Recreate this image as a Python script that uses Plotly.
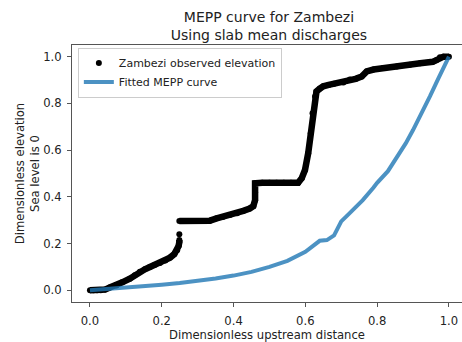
import plotly.graph_objects as go

# Observed long profile of the Zambezi (dimensionless distance / elevation).
# None marks breaks between separate runs of survey points.
obs_x = [0.0, 0.01, 0.02, 0.03, 0.042, 0.055, 0.074, 0.09, 0.111, 0.125, 0.139,
         0.153, 0.167, 0.18, 0.195, 0.21, 0.223, 0.235, 0.243, 0.247, 0.249,
         0.249, None, 0.249, None, 0.249, 0.27, 0.29, 0.31, 0.334, 0.353, 0.37,
         0.39, 0.41, 0.427, 0.445, 0.455, 0.46, 0.46, 0.46, 0.48, 0.50, 0.52,
         0.54, 0.56, 0.58, 0.59, 0.599, 0.608, 0.615, 0.62, 0.627, 0.631, 0.64,
         0.65, 0.665, 0.68, 0.706, 0.724, 0.74, 0.757, 0.771, 0.79, 0.817,
         0.855, 0.891, 0.92, 0.955, 0.965, 0.975, 0.985, 1.0]
obs_y = [0.0, 0.0, 0.0, 0.0, 0.003, 0.012, 0.021, 0.034, 0.05, 0.065, 0.079,
         0.09, 0.10, 0.108, 0.117, 0.128, 0.14, 0.155, 0.172, 0.19, 0.207,
         0.215, None, 0.24, None, 0.297, 0.297, 0.297, 0.297, 0.298, 0.308,
         0.314, 0.322, 0.33, 0.34, 0.35, 0.36, 0.386, 0.42, 0.458, 0.46, 0.46,
         0.46, 0.46, 0.46, 0.46, 0.48, 0.515, 0.587, 0.672, 0.758, 0.83, 0.851,
         0.863, 0.873, 0.879, 0.884, 0.889, 0.902, 0.905, 0.915, 0.937, 0.945,
         0.952, 0.958, 0.966, 0.972, 0.978, 0.985, 0.998, 1.0, 1.0]

# Fitted MEPP curve evaluated along the profile
fit_x = [0.0, 0.05, 0.1, 0.15, 0.2, 0.25, 0.3, 0.35, 0.4, 0.45, 0.5, 0.55,
         0.6, 0.625, 0.64, 0.66, 0.68, 0.69, 0.70, 0.72, 0.74, 0.76, 0.79, 0.80,
         0.83, 0.855, 0.88, 0.90, 0.925, 0.947, 0.97, 1.0]
fit_y = [0.0, 0.005, 0.012, 0.017, 0.024, 0.031, 0.040, 0.051, 0.063, 0.079,
         0.100, 0.126, 0.165, 0.195, 0.212, 0.215, 0.235, 0.265, 0.295, 0.325,
         0.355, 0.386, 0.44, 0.46, 0.51, 0.57, 0.63, 0.686, 0.76, 0.83, 0.905,
         1.0]

x_ticks = [0.0, 0.2, 0.4, 0.6, 0.8, 1.0]
y_ticks = [0.0, 0.2, 0.4, 0.6, 0.8, 1.0]

FONT = "DejaVu Sans"
TXT = "#222222"
SPINE = "#555555"

fig = go.Figure()

# observed profile: body of the dense point cloud
fig.add_trace(go.Scatter(
    x=obs_x, y=obs_y, mode="lines", connectgaps=False,
    line=dict(color="black", width=6.5), showlegend=False, hoverinfo="skip",
))
fig.add_trace(go.Scatter(
    x=obs_x, y=obs_y, mode="markers", name="Zambezi observed elevation",
    marker=dict(color="black", size=6),
))
fig.add_trace(go.Scatter(
    x=fit_x, y=fit_y, mode="lines", name="Fitted MEPP curve",
    line=dict(color="rgba(31,119,180,0.8)", width=4),
))

fig.update_layout(
    width=462, height=342,
    margin=dict(l=72, r=0, t=45, b=40),
    paper_bgcolor="white", plot_bgcolor="white",
    font=dict(family=FONT, size=11.6, color=TXT),
    title=dict(
        text="MEPP curve for Zambezi<br>Using slab mean discharges",
        x=0.505, xref="paper", xanchor="center",
        y=0.937, yref="container", yanchor="top",
        font=dict(family=FONT, size=14, color=TXT),
    ),
    legend=dict(
        x=0.015, y=0.99, xanchor="left", yanchor="top",
        bgcolor="rgba(255,255,255,0.8)", bordercolor="#cccccc", borderwidth=1,
        font=dict(family=FONT, size=11, color=TXT),
        tracegroupgap=0, itemwidth=30,
    ),
    showlegend=True,
)

fig.update_xaxes(
    range=[-0.05, 1.0364], tickvals=x_ticks, ticktext=[f"{v:.1f}" for v in x_ticks],
    showgrid=False, zeroline=False,
    showline=True, linecolor=SPINE, linewidth=1, mirror=True,
    ticks="outside", ticklen=4, tickcolor=SPINE, ticklabelstandoff=4,
    title=dict(text="Dimensionless upstream distance", standoff=4,
               font=dict(family=FONT, size=11.6, color=TXT)),
)
fig.update_yaxes(
    range=[-0.05, 1.05], tickvals=y_ticks, ticktext=[f"{v:.1f}" for v in y_ticks],
    showgrid=False, zeroline=False,
    showline=True, linecolor=SPINE, linewidth=1,
    ticks="outside", ticklen=4, tickcolor=SPINE, ticklabelstandoff=3,
    title=dict(text="Dimensionless elevation<br>Sea level is 0", standoff=1,
               font=dict(family=FONT, size=11.6, color=TXT)),
)

fig.write_html("out.html")
